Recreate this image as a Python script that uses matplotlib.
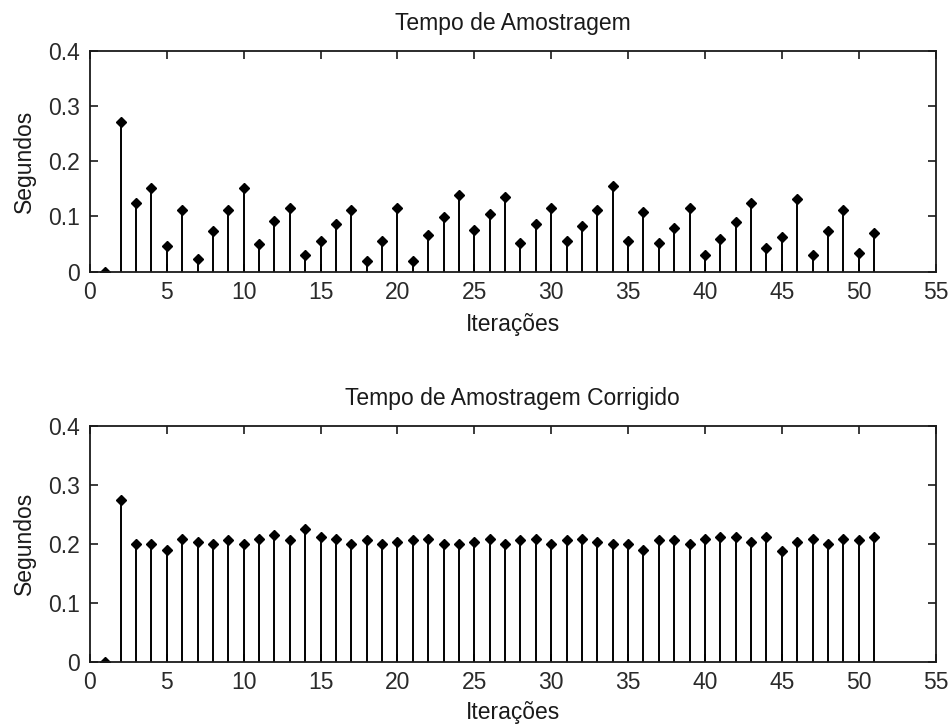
import numpy as np
import matplotlib
matplotlib.use("Agg")
import matplotlib.pyplot as plt

iteracoes = np.arange(1, 52)

# tempo de amostragem medido (s)
tempo = [0.0, 0.270, 0.125, 0.151, 0.046, 0.112, 0.023, 0.073, 0.112, 0.151,
         0.050, 0.092, 0.115, 0.030, 0.056, 0.086, 0.112, 0.020, 0.056, 0.115,
         0.020, 0.066, 0.099, 0.138, 0.076, 0.105, 0.135, 0.052, 0.086, 0.115,
         0.056, 0.083, 0.112, 0.155, 0.056, 0.108, 0.052, 0.079, 0.115, 0.030,
         0.059, 0.089, 0.125, 0.043, 0.062, 0.131, 0.030, 0.073, 0.112, 0.033,
         0.070]

# tempo de amostragem corrigido (s)
tempo_corr = [0.0, 0.274, 0.200, 0.200, 0.190, 0.209, 0.203, 0.200, 0.206, 0.200,
              0.209, 0.215, 0.206, 0.225, 0.212, 0.209, 0.200, 0.206, 0.200, 0.203,
              0.206, 0.209, 0.200, 0.200, 0.203, 0.209, 0.200, 0.206, 0.209, 0.200,
              0.206, 0.209, 0.203, 0.200, 0.200, 0.190, 0.206, 0.206, 0.200, 0.209,
              0.212, 0.212, 0.203, 0.212, 0.188, 0.203, 0.209, 0.200, 0.209, 0.206,
              0.212]

titulos = ["Tempo de Amostragem", "Tempo de Amostragem Corrigido"]
xticks = np.arange(0, 56, 5)
yticks = [0, 0.1, 0.2, 0.3, 0.4]
ytick_labels = ["0", "0.1", "0.2", "0.3", "0.4"]

plt.rcParams['font.family'] = ['Liberation Sans', 'DejaVu Sans']

fig = plt.figure(figsize=(9.49, 7.26), dpi=100)
ax1 = fig.add_axes([0.0948, 0.6258, 0.891, 0.3044])
ax2 = fig.add_axes([0.0948, 0.0886, 0.891, 0.3246])

for ax, dados, titulo, lp in zip([ax1, ax2], [tempo, tempo_corr], titulos, [6, 4.5]):
    ml, sl, bl = ax.stem(iteracoes, dados, linefmt='k-', markerfmt='kD', basefmt=' ')
    plt.setp(sl, linewidth=1.4)
    plt.setp(ml, markersize=5.5)
    ax.set_xlim(0, 55)
    ax.set_ylim(0, 0.4)
    ax.set_xticks(xticks)
    ax.set_yticks(yticks)
    ax.set_yticklabels(ytick_labels)
    ax.tick_params(direction='in', top=True, right=True, length=6, width=1.2,
                   labelsize=16.5, pad=7, colors='#1a1a1a', labelcolor='#2a2a2a')
    for s in ax.spines.values():
        s.set_linewidth(1.3)
        s.set_color('#1a1a1a')
    ax.set_title(titulo, fontsize=16.5, pad=15, color='#1a1a1a')
    ax.set_xlabel("Iterações", fontsize=16.5, labelpad=lp, color='#1a1a1a')
    ax.set_ylabel("Segundos", fontsize=16.5, labelpad=9, color='#1a1a1a')

fig.savefig("out.png", dpi=100)
